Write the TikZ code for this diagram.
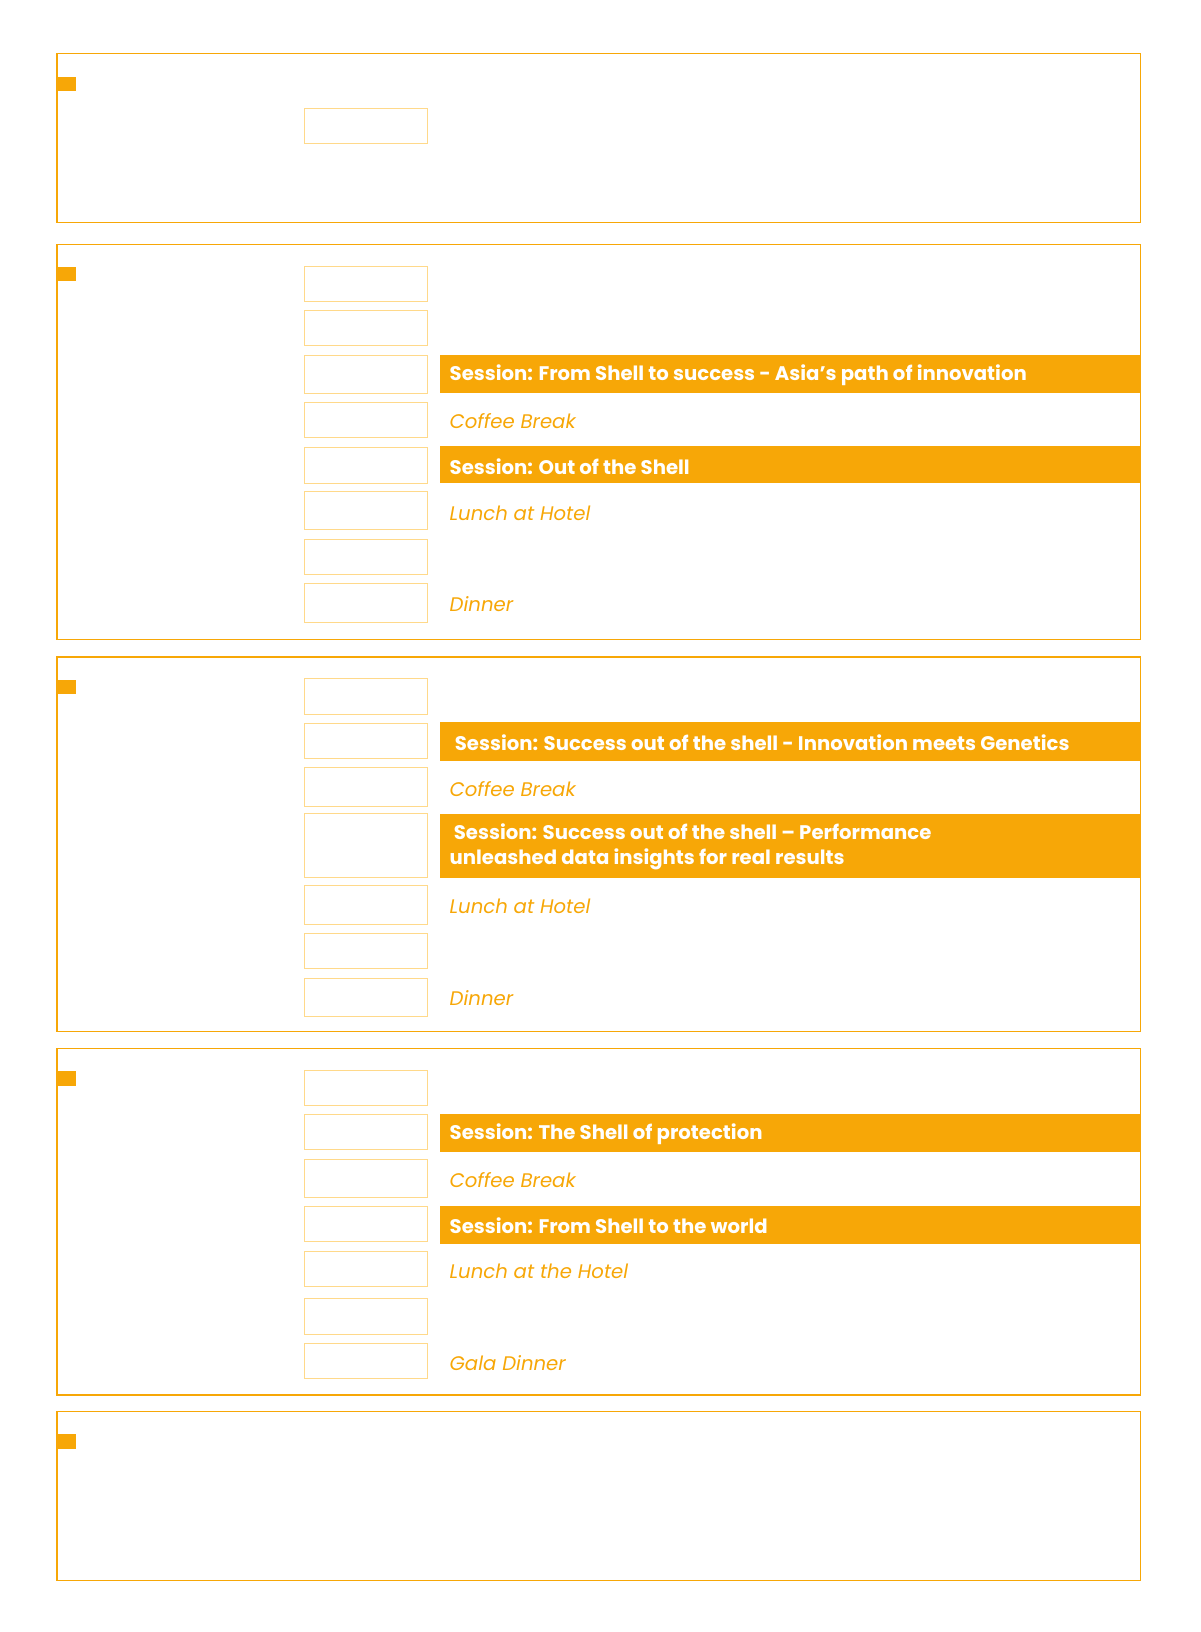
\documentclass[tikz,border=0pt]{standalone}
\usepackage{fontspec}
\setmainfont{Poppins}
\usepackage{xcolor}
\definecolor{agendaorange}{HTML}{F7A707}
\definecolor{agendalight}{HTML}{FFD98A}
\tikzset{
	daybox/.style={draw=agendaorange,line width=1.3pt},
	daymark/.style={fill=agendaorange},
	timebox/.style={draw=agendalight,line width=0.8pt},
	sessionbar/.style={fill=agendaorange},
	sessiontext/.style={anchor=west,text=white,font=\fontsize{19}{24}\selectfont\bfseries,align=left},
	breaktext/.style={anchor=west,text=agendaorange,font=\fontsize{19}{24}\selectfont\itshape}
}
\begin{document}
\begin{tikzpicture}[x=1pt,y=-1pt]
		\useasboundingbox[fill=white] (0,0) rectangle (1160,1577);

		% day frames
		\foreach \top/\bot [count=\d] in {52/215,236/618,635/997,1013/1348,1364/1527} {
			\draw[daybox] (55,\top) rectangle (1102,\bot);
			\fill[daymark] (55,\top+22) rectangle (73,\top+36);
		}

		% time slots
		\foreach \top/\bot in {105/139,
				257/291,300/334,343/380,389/423,432/467,475/512,521/555,564/601,
				656/690,699/733,742/779,786/848,856/893,902/936,945/982,
				1034/1068,1077/1111,1120/1157,1166/1200,1209/1243,1255/1289,1298/1332}
			\draw[timebox] (294,\top) rectangle (413,\bot);

		% sessions
		\fill[sessionbar] (425,343) rectangle (1102,380);
		\node[sessiontext] (asia-path) at (431,363) {Session: From Shell to success - Asia’s path of innovation};
		\fill[sessionbar] (425,431) rectangle (1102,467);
		\node[sessiontext] (out-shell) at (431,451) {Session: Out of the Shell};
		\fill[sessionbar] (425,698) rectangle (1102,735);
		\node[sessiontext] (genetics) at (436,718) {Session: Success out of the shell - Innovation meets Genetics};
		\fill[sessionbar] (425,787) rectangle (1102,848);
		\node[sessiontext] (performance) at (431,818) {\ Session: Success out of the shell – Performance\\unleashed data insights for real results};
		\fill[sessionbar] (425,1076) rectangle (1102,1113);
		\node[sessiontext] (protection) at (431,1096) {Session: The Shell of protection};
		\fill[sessionbar] (425,1165) rectangle (1102,1202);
		\node[sessiontext] (to-world) at (431,1184) {Session: From Shell to the world};

		% breaks
		\node[breaktext] (coffee-1) at (431,407) {Coffee Break};
		\node[breaktext] (lunch-1) at (431,496) {Lunch at Hotel};
		\node[breaktext] (dinner-1) at (431,584) {Dinner};
		\node[breaktext] (coffee-2) at (431,762) {Coffee Break};
		\node[breaktext] (lunch-2) at (431,876) {Lunch at Hotel};
		\node[breaktext] (dinner-2) at (431,964) {Dinner};
		\node[breaktext] (coffee-3) at (431,1140) {Coffee Break};
		\node[breaktext] (lunch-3) at (431,1228) {Lunch at the Hotel};
		\node[breaktext] (gala) at (431,1317) {Gala Dinner};
	\end{tikzpicture}
\end{document}
